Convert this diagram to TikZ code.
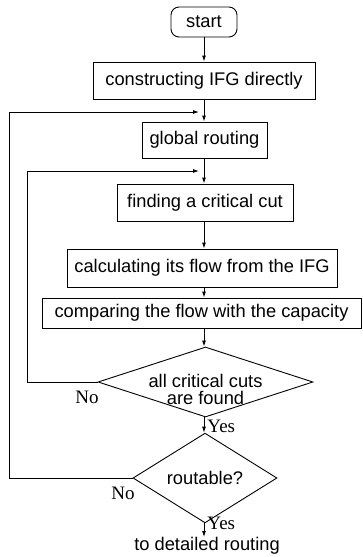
\documentclass[tikz,border=0pt]{standalone}
\usepackage{fontspec}
\setmainfont{Liberation Sans}
\newfontfamily\timesf{Liberation Serif}
\usetikzlibrary{shapes.geometric,arrows.meta}
\begin{document}
\begin{tikzpicture}[x=1pt,y=-1pt,
  line width=0.9pt,
  every node/.style={font=\fontsize{18.3}{17}\selectfont, inner sep=0pt},
  box/.style={draw, rectangle},
  dec/.style={draw, diamond},
  lbl/.style={font=\timesf\fontsize{19}{17}\selectfont},
  arr/.style={-{Latex[length=6pt,width=4pt]}}]
\useasboundingbox (0,0) rectangle (362,557);
\node[box, rounded corners=8pt, minimum width=66, minimum height=30] (s) at (204,22) {start};
\node[box, minimum width=222, minimum height=37] (c) at (204,80.5) {constructing IFG directly};
\node[box, minimum width=125, minimum height=36] (g) at (204.5,140) {global routing};
\node[box, minimum width=176, minimum height=37] (f) at (205,202.5) {finding a critical cut};
\node[box, minimum width=270, minimum height=38] (k) at (202,268) {calculating its flow from the IFG};
\node[box, minimum width=319, minimum height=30] (p) at (201.5,313) {comparing the flow with the capacity};
\node[dec, minimum width=215, minimum height=70] (d1) at (205.5,382) {};
\node[align=center] (d1t) at (205.5,389) {all critical cuts\\are found};
\node[dec, minimum width=144, minimum height=71] (d2) at (205,478) {routable?};
\node (e) at (207,546) {to detailed routing};
\coordinate (j1) at (204,112);
\coordinate (j2) at (204,171);
\coordinate (o1) at (9,478);
\coordinate (o2) at (27,382);
\draw[arr] (s) -- (c);
\draw[arr] (c.south -| j1) -- (g.north -| j1);
\draw[arr] (g.south -| j2) -- (f.north -| j2);
\draw[arr] (f.south -| j2) -- (k.north -| j2);
\draw[arr] (k.south -| j2) -- (p.north -| j2);
\draw[arr] (p.south -| j2) -- (d1.north -| j2);
\draw[arr] (d1.south -| j2) -- (d2.north -| j2);
\draw[arr] (d2.south -| j2) -- (e.north -| j2);
\draw[arr, shorten >=5pt] (d2.west) -- (o1) |- (j1);
\draw[arr, shorten >=5pt] (d1.west) -- (o2) |- (j2);
\node[lbl] (n1) at (87,397) {No};
\node[lbl] (n2) at (123,493) {No};
\node[lbl, anchor=west] (y1) at (207,426) {Yes};
\node[lbl, anchor=west] (y2) at (207,523) {Yes};
\end{tikzpicture}
\end{document}
